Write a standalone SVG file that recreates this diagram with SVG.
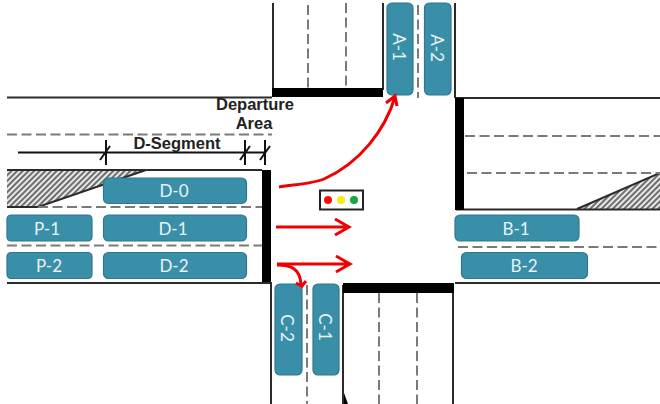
<svg xmlns="http://www.w3.org/2000/svg" width="660" height="404" viewBox="0 0 660 404">
<style>
.road{stroke:#2b2b2b;stroke-width:2;fill:none}
.dash{stroke:#7a7a7a;stroke-width:2;fill:none;stroke-dasharray:10 4.5}
.veh{fill:#3a8fa8;stroke:#2f7890;stroke-width:1.2}
.vt{font-family:"Lato","Open Sans",sans-serif;font-size:17px;fill:#e8f4f7;text-anchor:middle}
.lab{font-family:"Liberation Sans",Arial,sans-serif;font-size:16.500px;font-weight:bold;fill:#222;text-anchor:middle}
.bar{fill:#000}
.red{stroke:#f00000;stroke-width:3;fill:none}
.dim{stroke:#111;stroke-width:2;fill:none}
</style>
<defs>
<pattern id="hatch" width="4" height="4" patternUnits="userSpaceOnUse" patternTransform="rotate(45)">
<rect width="4" height="4" fill="#e8e8e8"/><rect width="2" height="4" fill="#6f6f6f"/>
</pattern>
</defs>
<rect width="660" height="404" fill="#fff"/>
<g id="roadway">
<polygon points="7,170 146,170 38,207 7,207" fill="url(#hatch)"/>
<polygon points="577,209 660,173 660,209" fill="url(#hatch)"/>
<path class="road" d="M146,170 L38,207 H7 M577,209 L660,173"/>
<path class="road" d="M7,97.500 H272 M7,170 H262 M7,283 H272 M456,98 H660 M456,209.500 H660 M455,283 H660"/>
<path class="road" d="M273,3 V90 M383,3 V90 M455,3 V98 M271,283 V404 M343,285 V404 M453,285 V404"/>
<path class="dash" d="M7,134.500 H272 M38,207 H262 M7,245.500 H262 M465,136 H660 M467,173 H660 M458,247 H660"/>
<path class="dash" d="M308,5 V88 M346,3 V88 M418,5 V98 M307,285 V404 M379,293 V404 M417,293 V404"/>
<rect class="bar" x="272" y="88" width="111" height="9"/>
<rect class="bar" x="262" y="170" width="9" height="112"/>
<rect class="bar" x="455" y="98" width="9" height="112"/>
<rect class="bar" x="343" y="283" width="111" height="10"/>
<polygon class="bar" points="344,393 348,404 344,404"/>
</g>
<g id="dimension">
<path class="dim" d="M18,152.500 H266 M106,140 V165 M245,140 V165 M265,140 V165 M100,160 L110,146 M240,160 L250,146 M260,160 L270,146"/>
<text class="lab" x="177" y="149">D-Segment</text>
<text class="lab" x="255" y="110">Departure</text>
<text class="lab" x="254" y="129">Area</text>
</g>
<g id="A-1"><rect class="veh" x="387" y="3" width="26" height="92" rx="5"/><text class="vt" transform="translate(399,47) rotate(90)" y="6">A-1</text></g>
<g id="A-2"><rect class="veh" x="424.500" y="3" width="26.500" height="92" rx="5"/><text class="vt" transform="translate(437,48) rotate(90)" y="6">A-2</text></g>
<g id="D-0"><rect class="veh" x="103.500" y="178" width="143" height="25.500" rx="5"/><text class="vt" x="174" y="197">D-0</text></g>
<g id="D-1"><rect class="veh" x="103.500" y="215" width="143" height="26" rx="5"/><text class="vt" x="173" y="235">D-1</text></g>
<g id="D-2"><rect class="veh" x="103.500" y="252.500" width="143" height="26" rx="5"/><text class="vt" x="174" y="272">D-2</text></g>
<g id="P-1"><rect class="veh" x="7" y="215" width="85" height="26" rx="4"/><text class="vt" x="47" y="235">P-1</text></g>
<g id="P-2"><rect class="veh" x="7" y="252.500" width="85" height="26" rx="4"/><text class="vt" x="49" y="272">P-2</text></g>
<g id="B-1"><rect class="veh" x="455" y="215" width="124" height="26" rx="5"/><text class="vt" x="516" y="235">B-1</text></g>
<g id="B-2"><rect class="veh" x="461.500" y="252.500" width="126" height="26" rx="5"/><text class="vt" x="524" y="272">B-2</text></g>
<g id="C-2"><rect class="veh" x="275" y="284" width="27" height="91" rx="5"/><text class="vt" transform="translate(287,328) rotate(90)" y="6">C-2</text></g>
<g id="C-1"><rect class="veh" x="313" y="284" width="26" height="91" rx="5"/><text class="vt" transform="translate(325,327) rotate(90)" y="6">C-1</text></g>
<g id="signal">
<rect x="320" y="190.500" width="43" height="19" fill="#fff" stroke="#222" stroke-width="2"/>
<circle cx="328" cy="200" r="4" fill="#ee1111"/>
<circle cx="341" cy="200" r="4" fill="#f5ee10"/>
<circle cx="354" cy="200" r="4" fill="#12a84a"/>
</g>
<g id="connectors">
<path class="red" d="M279,187 C300,184 315,183 324,179 C360,163 385,130 395,97"/>
<path class="red" d="M386,103 L395,96 L397,106"/>
<path class="red" d="M276,227 H347 M335,219 L349,227 L335,235"/>
<path class="red" d="M277,264 H349 M336,256 L350,264 L336,272"/>
<path class="red" d="M277,265 C290,265 300,268 301,284 M296,283 L302,286 L306,281"/>
</g>
</svg>
